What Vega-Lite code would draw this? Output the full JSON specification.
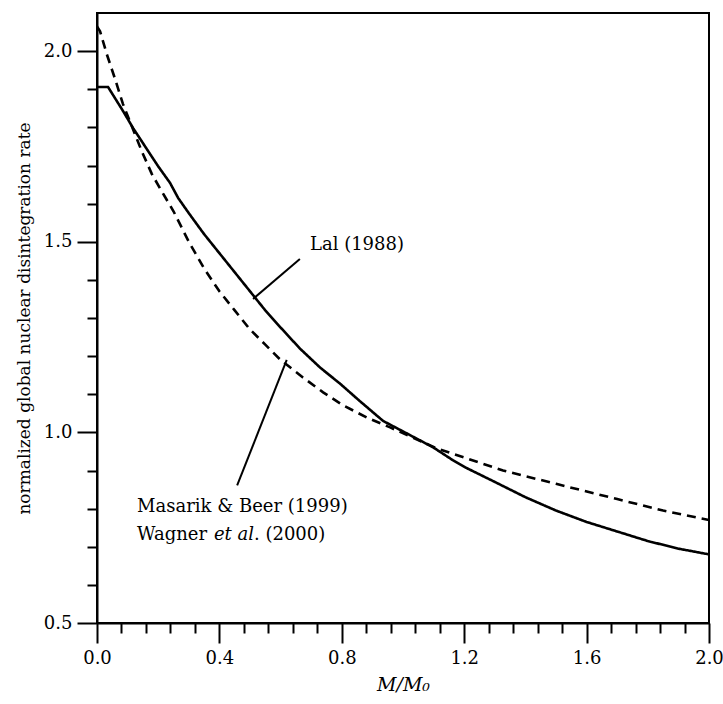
{
  "$schema": "https://vega.github.io/schema/vega-lite/v6.json",
  "width": 612,
  "height": 610,
  "autosize": "none",
  "padding": {"left": 97, "top": 13, "right": 14, "bottom": 81},
  "background": "white",
  "config": {
    "font": "DejaVu Serif",
    "view": {"stroke": "black", "strokeWidth": 2},
    "axis": {
      "grid": false,
      "domainColor": "black",
      "domainWidth": 2,
      "tickColor": "black",
      "tickWidth": 2,
      "labelColor": "black",
      "labelFontSize": 18,
      "labelFont": "DejaVu Serif",
      "titleColor": "black",
      "titleFont": "DejaVu Serif",
      "titleFontWeight": "normal"
    }
  },
  "datasets": {
    "curves": [
      {"series": "Lal", "m": 0.0, "rate": 1.906},
      {"series": "Lal", "m": 0.036, "rate": 1.906},
      {"series": "Lal", "m": 0.085, "rate": 1.843},
      {"series": "Lal", "m": 0.118, "rate": 1.798},
      {"series": "Lal", "m": 0.167, "rate": 1.738},
      {"series": "Lal", "m": 0.199, "rate": 1.699},
      {"series": "Lal", "m": 0.239, "rate": 1.654},
      {"series": "Lal", "m": 0.265, "rate": 1.615},
      {"series": "Lal", "m": 0.3, "rate": 1.575},
      {"series": "Lal", "m": 0.35, "rate": 1.52},
      {"series": "Lal", "m": 0.4, "rate": 1.47},
      {"series": "Lal", "m": 0.45, "rate": 1.42},
      {"series": "Lal", "m": 0.5, "rate": 1.37},
      {"series": "Lal", "m": 0.55, "rate": 1.32},
      {"series": "Lal", "m": 0.6, "rate": 1.275},
      {"series": "Lal", "m": 0.663, "rate": 1.22},
      {"series": "Lal", "m": 0.729, "rate": 1.17},
      {"series": "Lal", "m": 0.794, "rate": 1.128},
      {"series": "Lal", "m": 0.859, "rate": 1.082},
      {"series": "Lal", "m": 0.935, "rate": 1.03},
      {"series": "Lal", "m": 1.013, "rate": 0.997},
      {"series": "Lal", "m": 1.098, "rate": 0.961},
      {"series": "Lal", "m": 1.163, "rate": 0.927},
      {"series": "Lal", "m": 1.209, "rate": 0.906},
      {"series": "Lal", "m": 1.3, "rate": 0.87},
      {"series": "Lal", "m": 1.4, "rate": 0.83},
      {"series": "Lal", "m": 1.5, "rate": 0.795},
      {"series": "Lal", "m": 1.6, "rate": 0.765},
      {"series": "Lal", "m": 1.7, "rate": 0.74},
      {"series": "Lal", "m": 1.8, "rate": 0.715},
      {"series": "Lal", "m": 1.9, "rate": 0.695},
      {"series": "Lal", "m": 2.0, "rate": 0.68},
      {"series": "MB", "m": 0.0, "rate": 2.065},
      {"series": "MB", "m": 0.01, "rate": 2.052},
      {"series": "MB", "m": 0.032, "rate": 1.992},
      {"series": "MB", "m": 0.059, "rate": 1.927},
      {"series": "MB", "m": 0.085, "rate": 1.861},
      {"series": "MB", "m": 0.146, "rate": 1.738},
      {"series": "MB", "m": 0.179, "rate": 1.678},
      {"series": "MB", "m": 0.216, "rate": 1.626},
      {"series": "MB", "m": 0.25, "rate": 1.58},
      {"series": "MB", "m": 0.3, "rate": 1.5},
      {"series": "MB", "m": 0.35, "rate": 1.43},
      {"series": "MB", "m": 0.4, "rate": 1.37},
      {"series": "MB", "m": 0.45, "rate": 1.32},
      {"series": "MB", "m": 0.5, "rate": 1.27},
      {"series": "MB", "m": 0.55, "rate": 1.23},
      {"series": "MB", "m": 0.6, "rate": 1.19},
      {"series": "MB", "m": 0.673, "rate": 1.144},
      {"series": "MB", "m": 0.739, "rate": 1.105},
      {"series": "MB", "m": 0.804, "rate": 1.071},
      {"series": "MB", "m": 0.882, "rate": 1.039},
      {"series": "MB", "m": 0.958, "rate": 1.013},
      {"series": "MB", "m": 1.11, "rate": 0.958},
      {"series": "MB", "m": 1.327, "rate": 0.9},
      {"series": "MB", "m": 1.5, "rate": 0.865},
      {"series": "MB", "m": 1.7, "rate": 0.825},
      {"series": "MB", "m": 1.85, "rate": 0.795},
      {"series": "MB", "m": 2.0, "rate": 0.77}
    ],
    "pointers": [
      {"x1": 0.663, "y1": 1.455, "x2": 0.51, "y2": 1.35},
      {"x1": 0.458, "y1": 0.861, "x2": 0.62, "y2": 1.19}
    ],
    "labels": [
      {"x": 0.696, "y": 1.492, "text": "Lal (1988)", "style": "normal"},
      {"x": 0.131, "y": 0.804, "text": "Masarik & Beer (1999)", "style": "normal"},
      {"x": 0.131, "y": 0.73, "text": "Wagner", "style": "normal"},
      {"x": 0.513, "y": 0.73, "text": ". (2000)", "style": "normal"},
      {"x": 0.382, "y": 0.73, "text": "et al", "style": "italic"}
    ]
  },
  "layer": [
    {
      "data": {"name": "curves"},
      "mark": {"type": "line", "color": "black", "strokeWidth": 2.6, "clip": true},
      "encoding": {
        "x": {
          "field": "m", "type": "quantitative",
          "scale": {"domain": [0, 2], "nice": false, "zero": false},
          "axis": {
            "title": "M/M₀",
            "titleFontStyle": "italic",
            "titleFontSize": 19,
            "titlePadding": 8,
            "tickCount": 40,
            "values": [0, 0.08, 0.16, 0.24, 0.32, 0.4, 0.48, 0.56, 0.64, 0.72, 0.8, 0.88, 0.96, 1.04, 1.12, 1.2, 1.28, 1.36, 1.44, 1.52, 1.6, 1.68, 1.76, 1.84, 1.92, 2.0],
            "labelExpr": "indexof(['0.00','0.40','0.80','1.20','1.60','2.00'], format(datum.value, '.2f')) >= 0 ? format(datum.value, '.1f') : ''",
            "labelOverlap": false,
            "tickSize": {"condition": {"test": "indexof(['0.00','0.40','0.80','1.20','1.60','2.00'], format(datum.value, '.2f')) >= 0", "value": 20}, "value": 10},
            "labelPadding": 6,
            "labelFlush": false
          }
        },
        "y": {
          "field": "rate", "type": "quantitative",
          "scale": {"domain": [0.5, 2.1], "nice": false, "zero": false},
          "axis": {
            "title": "normalized global nuclear disintegration rate",
            "titleFontSize": 17,
            "titlePadding": 10,
            "tickCount": 40,
            "values": [0.5, 0.6, 0.7, 0.8, 0.9, 1.0, 1.1, 1.2, 1.3, 1.4, 1.5, 1.6, 1.7, 1.8, 1.9, 2.0],
            "labelExpr": "indexof(['0.5','1.0','1.5','2.0'], format(datum.value, '.1f')) >= 0 ? format(datum.value, '.1f') : ''",
            "labelOverlap": false,
            "tickSize": {"condition": {"test": "indexof(['0.5','1.0','1.5','2.0'], format(datum.value, '.1f')) >= 0", "value": 20}, "value": 10},
            "labelPadding": 5,
            "labelFlush": false
          }
        },
        "detail": {"field": "series"},
        "strokeDash": {
          "field": "series", "type": "nominal",
          "scale": {"domain": ["Lal", "MB"], "range": [[1, 0], [9, 6]]},
          "legend": null
        }
      }
    },
    {
      "data": {"name": "pointers"},
      "mark": {"type": "rule", "color": "black", "strokeWidth": 2},
      "encoding": {
        "x": {"field": "x1", "type": "quantitative"},
        "y": {"field": "y1", "type": "quantitative"},
        "x2": {"field": "x2"},
        "y2": {"field": "y2"}
      }
    },
    {
      "data": {"name": "labels"},
      "transform": [{"filter": "datum.style == 'normal'"}],
      "mark": {"type": "text", "align": "left", "baseline": "middle", "fontSize": 18, "font": "DejaVu Serif", "color": "black"},
      "encoding": {
        "x": {"field": "x", "type": "quantitative"},
        "y": {"field": "y", "type": "quantitative"},
        "text": {"field": "text"}
      }
    },
    {
      "data": {"name": "labels"},
      "transform": [{"filter": "datum.style == 'italic'"}],
      "mark": {"type": "text", "align": "left", "baseline": "middle", "fontSize": 18, "font": "DejaVu Serif", "fontStyle": "italic", "color": "black"},
      "encoding": {
        "x": {"field": "x", "type": "quantitative"},
        "y": {"field": "y", "type": "quantitative"},
        "text": {"field": "text"}
      }
    }
  ]
}
